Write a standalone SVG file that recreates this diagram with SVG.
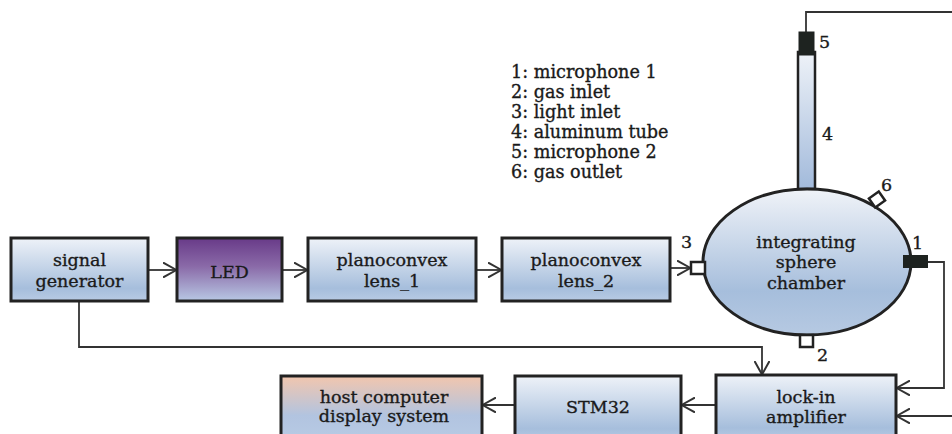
<svg xmlns="http://www.w3.org/2000/svg" width="952" height="434" viewBox="0 0 952 434">
<style>
.box{stroke:#222;stroke-width:3;}
.lbl{font-family:"DejaVu Serif","Liberation Serif",serif;font-size:17.5px;fill:#1a1a1a;stroke:#1a1a1a;stroke-width:0.35;text-anchor:middle;}
.num{font-family:"DejaVu Serif","Liberation Serif",serif;font-size:17.5px;fill:#1a1a1a;stroke:#1a1a1a;stroke-width:0.35;}
.leg{font-family:"DejaVu Serif","Liberation Serif",serif;font-size:17.6px;fill:#1a1a1a;stroke:#1a1a1a;stroke-width:0.35;}
.wire{fill:none;stroke:#333;stroke-width:1.8;}
</style>
<defs>
<linearGradient id="gBlue" x1="0" y1="0" x2="0" y2="1">
<stop offset="0" stop-color="#eef2f8"/>
<stop offset="0.8" stop-color="#a6bedc"/>
<stop offset="1" stop-color="#b8cbe4"/>
</linearGradient>
<linearGradient id="gLed" x1="0" y1="0" x2="0" y2="1">
<stop offset="0" stop-color="#683a88"/>
<stop offset="0.45" stop-color="#8a6aa8"/>
<stop offset="1" stop-color="#b8c8e4"/>
</linearGradient>
<linearGradient id="gHost" x1="0" y1="0" x2="0" y2="1">
<stop offset="0" stop-color="#f2c6ae"/>
<stop offset="0.6" stop-color="#b2c4e0"/>
<stop offset="1" stop-color="#b8cbe4"/>
</linearGradient>
<linearGradient id="gSphere" x1="0" y1="0" x2="0" y2="1">
<stop offset="0" stop-color="#f0f3f8"/>
<stop offset="0.7" stop-color="#a6bedc"/>
<stop offset="1" stop-color="#b6c9e2"/>
</linearGradient>
<linearGradient id="gTube" x1="0" y1="0" x2="0" y2="1">
<stop offset="0" stop-color="#eef2f8"/>
<stop offset="1" stop-color="#a2badb"/>
</linearGradient>
<marker id="arr" viewBox="0 0 14 16" refX="14" refY="8" markerWidth="14" markerHeight="16" markerUnits="userSpaceOnUse" orient="auto">
<path d="M0,0.5 L13.5,8 L0,15.5" fill="none" stroke="#333" stroke-width="2"/>
</marker>
</defs>
<rect width="952" height="434" fill="#ffffff"/>

<g id="connectors">
<line class="wire" x1="148" y1="270" x2="177" y2="270" marker-end="url(#arr)"/>
<line class="wire" x1="282" y1="270" x2="308" y2="270" marker-end="url(#arr)"/>
<line class="wire" x1="476" y1="270" x2="502" y2="270" marker-end="url(#arr)"/>
<line class="wire" x1="670" y1="268" x2="691" y2="268" marker-end="url(#arr)"/>
<polyline class="wire" points="79,301 79,347 762,347 762,375" marker-end="url(#arr)"/>
<polyline class="wire" points="928,262 944,262 944,388 896,388" marker-end="url(#arr)"/>
<line class="wire" x1="952" y1="416" x2="896" y2="416" marker-end="url(#arr)"/>
<line class="wire" x1="716" y1="405" x2="681" y2="405" marker-end="url(#arr)"/>
<line class="wire" x1="515" y1="405" x2="482" y2="405" marker-end="url(#arr)"/>
<polyline class="wire" points="806,32 806,12 952,12"/>
</g>

<g id="legend">
<text class="leg" x="511" y="78">1: microphone 1</text>
<text class="leg" x="511" y="98">2: gas inlet</text>
<text class="leg" x="511" y="118">3: light inlet</text>
<text class="leg" x="511" y="138">4: aluminum tube</text>
<text class="leg" x="511" y="158">5: microphone 2</text>
<text class="leg" x="511" y="178">6: gas outlet</text>
</g>

<g id="signal-generator">
<rect class="box" x="11" y="238" width="137" height="63" fill="url(#gBlue)"/>
<text class="lbl" x="79.5" y="266">signal</text>
<text class="lbl" x="79.5" y="287">generator</text>
</g>
<g id="led">
<rect class="box" x="177" y="238" width="105" height="63" fill="url(#gLed)"/>
<text class="lbl" x="229.5" y="278">LED</text>
</g>
<g id="lens1">
<rect class="box" x="308" y="238" width="168" height="63" fill="url(#gBlue)"/>
<text class="lbl" x="392" y="266">planoconvex</text>
<text class="lbl" x="392" y="287">lens_1</text>
</g>
<g id="lens2">
<rect class="box" x="502" y="238" width="168" height="63" fill="url(#gBlue)"/>
<text class="lbl" x="586" y="266">planoconvex</text>
<text class="lbl" x="586" y="287">lens_2</text>
</g>

<g id="tube">
<rect x="798" y="52" width="17" height="137" fill="url(#gTube)" stroke="#222" stroke-width="2.5"/>
<rect x="799" y="32" width="15" height="23" fill="#1e2320" stroke="#1e2320" stroke-width="1"/>
<text class="num" x="819" y="48">5</text>
<text class="num" x="822" y="140">4</text>
</g>

<g id="sphere">
<ellipse cx="807" cy="262" rx="104" ry="73" fill="url(#gSphere)" stroke="#222" stroke-width="3"/>
<text class="lbl" x="806" y="248">integrating</text>
<text class="lbl" x="806" y="268">sphere</text>
<text class="lbl" x="806" y="289">chamber</text>
</g>

<g id="port3">
<rect x="691" y="262" width="14" height="12" fill="#fff" stroke="#222" stroke-width="2.5"/>
<text class="num" x="681" y="248">3</text>
</g>
<g id="port1">
<rect x="903" y="255" width="25" height="13" fill="#1e2320"/>
<text class="num" x="912" y="249">1</text>
</g>
<g id="port2">
<rect x="800" y="335" width="13" height="12" fill="#fff" stroke="#222" stroke-width="2.5"/>
<text class="num" x="817" y="361">2</text>
</g>
<g id="port6">
<rect x="871" y="194" width="12" height="11" fill="#fff" stroke="#222" stroke-width="2.5" transform="rotate(-35 877 199.5)"/>
<text class="num" x="881" y="191">6</text>
</g>

<g id="lockin">
<rect class="box" x="716" y="375" width="180" height="66" fill="url(#gBlue)"/>
<text class="lbl" x="806" y="403">lock-in</text>
<text class="lbl" x="806" y="423">amplifier</text>
</g>
<g id="stm32">
<rect class="box" x="515" y="376" width="166" height="66" fill="url(#gBlue)"/>
<text class="lbl" x="598" y="413">STM32</text>
</g>
<g id="host">
<rect class="box" x="281" y="376" width="201" height="66" fill="url(#gHost)"/>
<text class="lbl" x="384" y="403">host computer</text>
<text class="lbl" x="384" y="422">display system</text>
</g>
</svg>
